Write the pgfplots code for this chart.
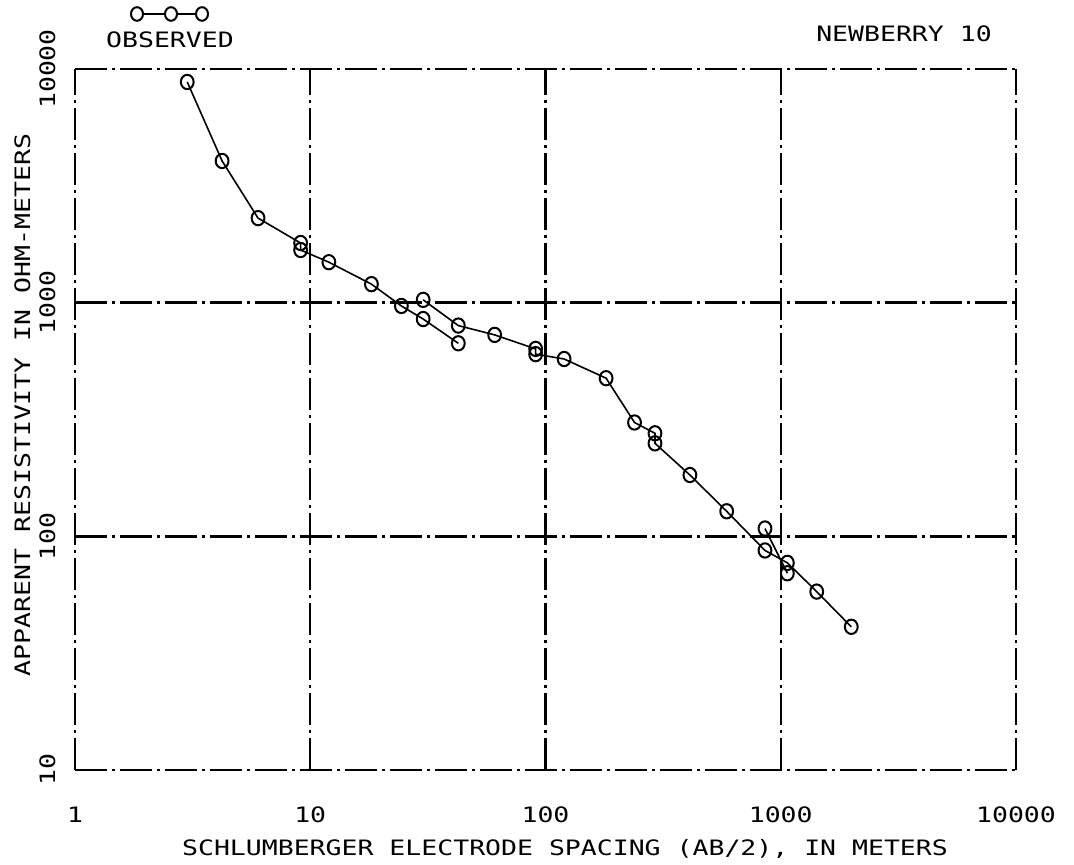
\documentclass[border=0pt]{standalone}
\usepackage{fontspec}
\setmainfont{DejaVu Sans Mono}[FakeStretch=1.25]
\usepackage{pgfplots}
\pgfplotsset{compat=1.18}

\newcommand\pf{\fontsize{10.6}{12.7}\selectfont}

\begin{document}
\begin{tikzpicture}
% 1px = 0.5pt of the 1074x865 reference
\path[use as bounding box] (-37.5pt,-47.5pt) rectangle (499.5pt,385pt);
\begin{axis}[
    scale only axis,
    width=470.5pt, height=350.5pt,
    at={(0,0)}, anchor=south west,
    xmode=log, ymode=log,
    xmin=1, xmax=10000,
    ymin=10, ymax=10000,
    xtick={1,10,100,1000,10000},
    xticklabels={1,10,100,1000,10000},
    ytick={10,100,1000,10000},
    yticklabels={10,100,1000,10000},
    xminorticks=false, yminorticks=false,
    major tick length=0pt,
    /pgf/number format/assume math mode=true,
    every tick label/.append style={font=\pf},
    xticklabel style={anchor=center, yshift=-22.5pt},
    yticklabel style={anchor=center, xshift=-13.75pt, rotate=90},
    grid=major,
    grid style={black, line width=1.2pt, dash pattern=on 16pt off 2.5pt on 1.5pt off 2.5pt},
    axis line style={draw=none},
    clip=false,
]
% segment 1
\addplot[black, line width=0.8pt, mark=o, mark size=3.2pt,
         mark options={solid, line width=1pt, yscale=1.12}] coordinates {
    (3.0,8800) (4.22,4040) (6.0,2300) (9.1,1800) (9.1,1680)
    (12.0,1490) (18.2,1200) (24.4,968) (30.2,851) (42.6,670)
};
% segment 2
\addplot[black, line width=0.8pt, mark=o, mark size=3.2pt,
         mark options={solid, line width=1pt, yscale=1.12}] coordinates {
    (30.2,1028) (42.6,798) (60.8,728) (90.8,634) (90.8,602)
    (120,574) (181,475) (239,307) (292,276) (292,250)
    (411,183) (589,128) (857,87) (1067,77) (1422,58) (1995,41)
};
% segment 3
\addplot[black, line width=0.8pt, mark=o, mark size=3.2pt,
         mark options={solid, line width=1pt, yscale=1.12}] coordinates {
    (857,108) (1067,69.5)
};
\end{axis}
% labels
\node[anchor=base, font=\pf, inner sep=0pt] at (245pt,-42.5pt)
    {SCHLUMBERGER ELECTRODE SPACING (AB/2), IN METERS};
\node[anchor=base, font=\pf, inner sep=0pt, rotate=90] at (-22.4pt,182.5pt)
    {APPARENT RESISTIVITY IN OHM-METERS};
\node[anchor=base, font=\pf, inner sep=0pt] at (414.5pt,364pt) {NEWBERRY 10};
% legend
\node[anchor=base, font=\pf, inner sep=0pt] at (47.5pt,361pt) {OBSERVED};
\draw[line width=1pt] (31pt,378pt) -- (63.5pt,378pt);
\foreach \lx in {31,48,63.5}
  \draw[line width=1pt, fill=white] (\lx pt,378pt) ellipse (3pt and 3.4pt);
\end{tikzpicture}
\end{document}
